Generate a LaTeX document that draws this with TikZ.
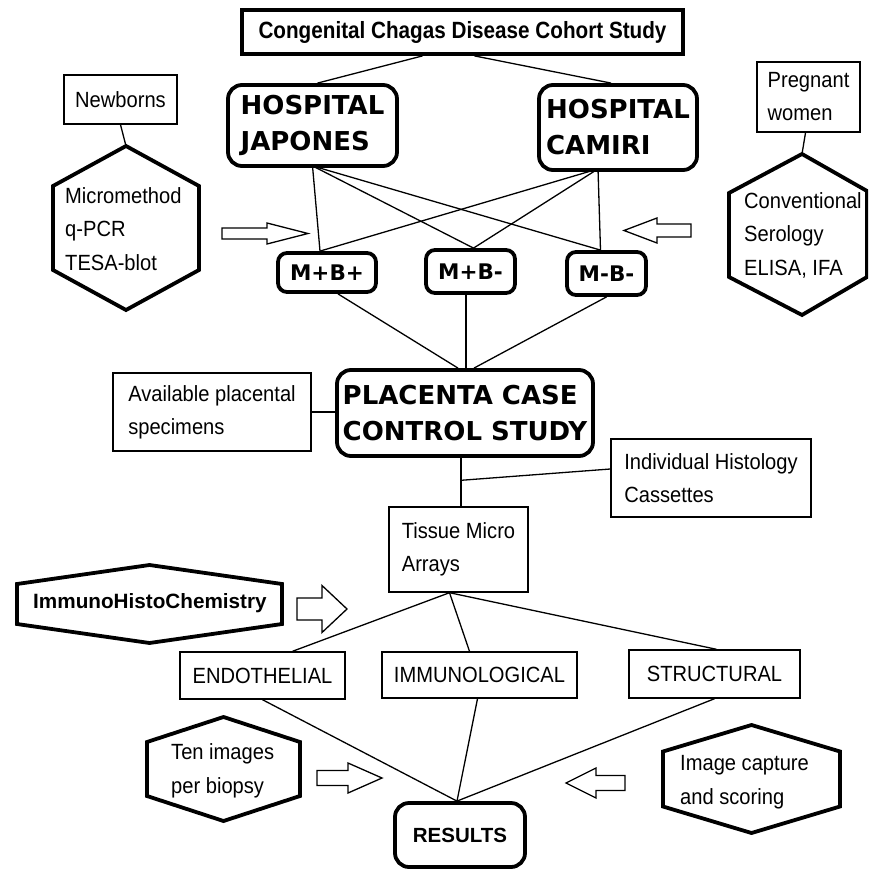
\documentclass[tikz,border=0pt]{standalone}
\usepackage{fontspec}
\setmainfont{Liberation Sans}[FakeStretch=0.915]
\newfontfamily\titlefont{Liberation Sans}[FakeStretch=0.88]
\newfontfamily\boldplain{Liberation Sans}
\newfontfamily\widebold{DejaVu Sans}
\usetikzlibrary{calc}
\newcommand{\hexshape}[5]{% cx cy hw hh hv
  \draw[hexline] (#1,#2-#4) -- (#1+#3,#2-#5) -- (#1+#3,#2+#5) -- (#1,#2+#4) -- (#1-#3,#2+#5) -- (#1-#3,#2-#5) -- cycle;}
\newcommand{\blockarrow}[6]{% tail headbase tip yc shafthalf headhalf
  \draw[arrowline] (#1,#4-#5) -- (#2,#4-#5) -- (#2,#4-#6) -- (#3,#4) -- (#2,#4+#6) -- (#2,#4+#5) -- (#1,#4+#5) -- cycle;}
\tikzset{
  plain/.style={draw, line width=1.4pt, align=left, inner sep=0pt, font=\fontsize{22}{33}\selectfont},
  heavy/.style={draw, line width=3.8pt, rounded corners=14pt, align=left, inner sep=0pt, font=\widebold\bfseries\fontsize{26}{36}\selectfont},
  mbox/.style={draw, line width=3.8pt, rounded corners=9pt, inner sep=0pt, font=\widebold\bfseries\fontsize{21.5}{24}\selectfont},
  hexline/.style={line width=3.8pt, line join=miter},
  hextext/.style={align=left, inner sep=0pt, anchor=west, font=\fontsize{22}{33.5}\selectfont},
  arrowline/.style={line width=1.3pt, line join=miter},
  conn/.style={line width=1.3pt}
}
\begin{document}
\begin{tikzpicture}[x=1pt,y=-1pt]
\useasboundingbox (0,0) rectangle (868,869);
\clip (0,0) rectangle (868,869);
\fill[white] (0,0) rectangle (868,869);

% title
\node[draw, line width=3.8pt, minimum width=441pt, minimum height=44pt, inner sep=0pt,
  font=\titlefont\bfseries\fontsize{23.5}{26}\selectfont] (title) at (462.5,32) {Congenital Chagas Disease Cohort Study};

% hospitals
\node[heavy, minimum width=169pt, minimum height=81pt] (japones) at (312.5,125.5) {HOSPITAL\\JAPONES};
\node[heavy, minimum width=158pt, minimum height=85pt] (camiri) at (618,127.5) {HOSPITAL\\CAMIRI};

% side boxes top
\node[plain, minimum width=113pt, minimum height=49pt] (newborns) at (120.5,99.5) {Newborns};
\node[plain, minimum width=103pt, minimum height=70pt] (pregnant) at (808.5,97) {Pregnant\\women};

% hexagons top
\hexshape{126}{228}{73}{82}{42}
\coordinate (hexLtop) at (126,146);
\node[hextext] (hexL) at (65,229) {Micromethod\\q-PCR\\TESA-blot};
\draw[hexline] (802,154) -- (867,191) -- (867,277) -- (802,315) -- (729,277) -- (729,193) -- cycle;
\coordinate (hexRtop) at (802,154);
\node[hextext] (hexR) at (744,235) {Conventional\\Serology\\ELISA, IFA};
\draw[conn] (newborns.south) -- (hexLtop);
\draw[conn] ($(pregnant.south)+(-3,0)$) -- (hexRtop);

% arrows top
\blockarrow{222}{267}{308}{233.5}{5.5}{10.5}
\blockarrow{691}{657}{624}{230.5}{6.5}{12.5}

% M boxes
\node[mbox, minimum width=98pt, minimum height=39pt] (mpp) at (327,272.5) {M+B+};
\node[mbox, minimum width=89pt, minimum height=43pt] (mpm) at (470.5,271.5) {M+B-};
\node[mbox, minimum width=79pt, minimum height=43pt] (mmm) at (606.5,273.5) {M-B-};

% title to hospitals
\draw[conn] ($(title.south)+(-40,0)$) -- ($(japones.north)+(5,0)$);
\draw[conn] ($(title.south)+(12,0)$) -- ($(camiri.north)+(-7,0)$);

% hospitals to M boxes
\coordinate (jb) at ($(japones.south)+(0,-2)$);
\coordinate (cb) at ($(camiri.south)+(-20,-3)$);
\draw[conn] (jb) -- ($(mpp.north)+(-7,0)$);
\draw[conn] (jb) -- ($(mpm.north)+(3,0)$);
\draw[conn] (jb) -- ($(mmm.north)+(-6,0)$);
\draw[conn] (cb) -- ($(mpp.north)+(-7,0)$);
\draw[conn] (cb) -- ($(mpm.north)+(3,0)$);
\draw[conn] (cb) -- ($(mmm.north)+(-6,0)$);

% placenta
\node[heavy, minimum width=256pt, minimum height=86pt] (placenta) at (465,413) {PLACENTA CASE\\CONTROL STUDY};
\draw[conn] ($(mpp.south)+(11,0)$) -- ($(placenta.north)+(-7,0)$);
\draw[conn] ($(mpm.south)+(-4.5,0)$) -- ($(placenta.north)+(1,0)$);
\draw[conn] ($(mmm.south)+(0,0)$) -- ($(placenta.north)+(9,0)$);

\node[plain, minimum width=198pt, minimum height=78pt] (avail) at (212,412) {Available placental\\specimens};
\draw[conn] (avail.east) -- (avail.east -| placenta.west);

\node[plain, minimum width=139pt, minimum height=85pt] (tissue) at (458.5,549.5) {Tissue Micro\\Arrays};
\node[plain, minimum width=200pt, minimum height=78pt] (indiv) at (711,478) {Individual Histology\\Cassettes};
\coordinate (pt) at ($(tissue.north)+(2.5,0)$);
\draw[conn] (pt) -- (pt |- placenta.south);
\coordinate (br) at ($(pt)+(0,-26)$);
\draw[conn] (br) -- ($(indiv.west)+(0,-9)$);

% IHC
\hexshape{149.5}{604}{132.5}{39}{20}
\node[hextext, font=\boldplain\bfseries\fontsize{20.7}{24}\selectfont] (ihc) at (33,603) {ImmunoHistoChemistry};
\blockarrow{297}{322}{347}{609}{11}{23.5}

% categories
\node[plain, minimum width=165pt, minimum height=47pt] (endo) at (262.5,675.5) {ENDOTHELIAL};
\node[plain, minimum width=195pt, minimum height=46pt] (immuno) at (479.5,675) {IMMUNOLOGICAL};
\node[plain, minimum width=171pt, minimum height=48pt] (struct) at (714.5,674) {STRUCTURAL};
\coordinate (tb) at ($(tissue.south)+(-9,0)$);
\draw[conn] (tb) -- ($(endo.north)+(30,0)$);
\draw[conn] (tb) -- ($(immuno.north)+(-10,0)$);
\draw[conn] (tb) -- ($(struct.north)+(2,0)$);

% results
\node[mbox, rounded corners=14pt, minimum width=130pt, minimum height=64pt, font=\boldplain\bfseries\fontsize{20.5}{24}\selectfont] (results) at (460,835) {RESULTS};
\coordinate (rt) at ($(results.north)+(-3,0)$);
\draw[conn] (endo.south) -- (rt);
\draw[conn] ($(immuno.south)+(-2,0)$) -- (rt);
\draw[conn] (struct.south) -- (rt);

% bottom hexes
\hexshape{223.5}{769}{76.5}{52}{27}
\node[hextext] (ten) at (171,771) {Ten images\\per biopsy};
\blockarrow{317}{348}{382}{778}{7.5}{15}
\hexshape{751.5}{779}{88.5}{54}{27.5}
\node[hextext] (capture) at (680,782) {Image capture\\and scoring};
\blockarrow{625}{596}{566}{783}{7.5}{15}
\end{tikzpicture}
\end{document}
